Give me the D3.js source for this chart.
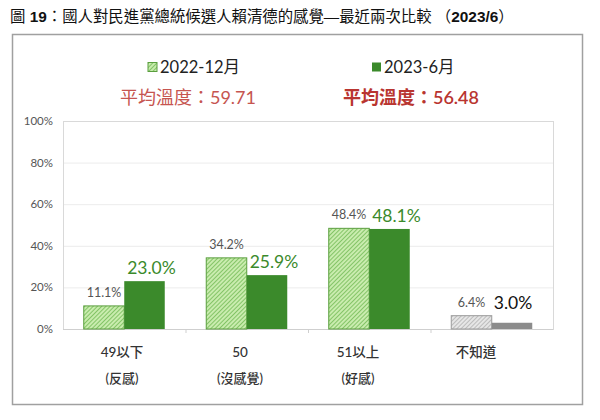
<!DOCTYPE html>
<html>
<head>
<meta charset="utf-8">
<script src="https://cdn.jsdelivr.net/npm/d3@7"></script>
<style>
  body { margin: 0; background: #fff; }
  svg { display: block; font-family: "Lato", "Noto Sans CJK TC", sans-serif; }
</style>
</head>
<body>
<div id="chart"></div>
<script>
// data
let categories = ["49以下", "50", "51以上", "不知道"];
let categorySub = ["(反感)", "(沒感覺)", "(好感)", ""];
let seriesNames = ["2022-12月", "2023-6月"];
let values2022 = [11.1, 34.2, 48.4, 6.4];
let values2023 = [23.0, 25.9, 48.1, 3.0];
let avgLabels = ["平均溫度：59.71", "平均溫度：56.48"];
let yTicks = [0, 20, 40, 60, 80, 100];

let width = 600, height = 420;
let margin = { top: 121, right: 47, bottom: 91, left: 63 };

let svg = d3.select("#chart").append("svg")
    .attr("width", width)
    .attr("height", height);

let defs = svg.append("defs");

function addHatch(id, bg, line) {
    let p = defs.append("pattern")
        .attr("id", id)
        .attr("patternUnits", "userSpaceOnUse")
        .attr("width", 3)
        .attr("height", 3)
        .attr("patternTransform", "rotate(45)");
    p.append("rect").attr("width", 3).attr("height", 3).attr("fill", bg);
    p.append("line")
        .attr("x1", 0).attr("y1", 0).attr("x2", 0).attr("y2", 3)
        .attr("stroke", line).attr("stroke-width", 1.3);
}
addHatch("hatchGreen", "#c9ecae", "#5fae40");
addHatch("hatchGray", "#e6e6e6", "#a6a6a6");

// title
let title = svg.append("text")
    .attr("x", 10)
    .attr("y", 22)
    .attr("font-size", 15.4)
    .attr("fill", "#111")
    .attr("font-family", "'Liberation Sans', 'Noto Sans CJK TC', sans-serif");
title.append("tspan").text("圖 ");
title.append("tspan").attr("font-weight", "bold").text("19");
title.append("tspan").text("：國人對民進黨總統候選人賴清德的感覺—最近兩次比較 （");
title.append("tspan").attr("font-weight", "bold").text("2023/6");
title.append("tspan").text("）");

// outer frame
svg.append("rect")
    .attr("x", 12.5)
    .attr("y", 34.5)
    .attr("width", 570)
    .attr("height", 370)
    .attr("fill", "none")
    .attr("stroke", "#a0a0a0")
    .attr("stroke-width", 1.5);

let x = d3.scaleBand()
    .domain(categories)
    .range([margin.left, width - margin.right]);

let y = d3.scaleLinear()
    .domain([0, 100])
    .range([height - margin.bottom, margin.top]);

let barW = 40.5;

// grid
svg.append("g")
    .selectAll("line")
    .data(yTicks.filter(d => d > 0 && d < 100))
    .join("line")
    .attr("x1", margin.left)
    .attr("x2", width - margin.right)
    .attr("y1", d => y(d) + 0.5)
    .attr("y2", d => y(d) + 0.5)
    .attr("stroke", "#ececec");

// plot border
svg.append("rect")
    .attr("x", margin.left + 0.5)
    .attr("y", y(100) + 0.5)
    .attr("width", width - margin.right - margin.left)
    .attr("height", y(0) - y(100))
    .attr("fill", "none")
    .attr("stroke", "#d9d9d9");

// y axis labels
svg.append("g")
    .selectAll("text")
    .data(yTicks)
    .join("text")
    .attr("x", 53)
    .attr("y", d => y(d) + 4)
    .attr("text-anchor", "end")
    .attr("font-size", 11.5)
    .attr("fill", "#555")
    .text(d => d + "%");

// x axis baseline and ticks
svg.append("line")
    .attr("x1", margin.left)
    .attr("x2", width - margin.right)
    .attr("y1", y(0) + 0.5)
    .attr("y2", y(0) + 0.5)
    .attr("stroke", "#cfcfcf");

svg.append("g")
    .selectAll("line")
    .data(categories.slice(1))
    .join("line")
    .attr("x1", d => x(d) + 0.5)
    .attr("x2", d => x(d) + 0.5)
    .attr("y1", y(0))
    .attr("y2", y(0) + 4)
    .attr("stroke", "#cfcfcf");

// bars
let center = d => x(d) + x.bandwidth() / 2;
let isUnknown = i => i === categories.length - 1;

svg.append("g")
    .selectAll("rect")
    .data(categories)
    .join("rect")
    .attr("x", d => center(d) - barW)
    .attr("y", (d, i) => y(values2022[i]))
    .attr("width", barW)
    .attr("height", (d, i) => y(0) - y(values2022[i]))
    .attr("fill", (d, i) => isUnknown(i) ? "url(#hatchGray)" : "url(#hatchGreen)")
    .attr("stroke", (d, i) => isUnknown(i) ? "#9a9a9a" : "#5a9e3e")
    .attr("stroke-width", 1);

svg.append("g")
    .selectAll("rect")
    .data(categories)
    .join("rect")
    .attr("x", d => center(d))
    .attr("y", (d, i) => y(values2023[i]))
    .attr("width", barW)
    .attr("height", (d, i) => y(0) - y(values2023[i]))
    .attr("fill", (d, i) => isUnknown(i) ? "#8c8c8c" : "#3b8a2b");

// value labels
svg.append("g")
    .selectAll("text")
    .data(categories)
    .join("text")
    .attr("x", d => center(d) - barW / 2)
    .attr("y", (d, i) => y(values2022[i]) - 9)
    .attr("text-anchor", "middle")
    .attr("font-size", 12.5)
    .attr("fill", "#555")
    .text((d, i) => values2022[i].toFixed(1) + "%");

svg.append("g")
    .selectAll("text")
    .data(categories)
    .join("text")
    .attr("x", (d, i) => center(d) + barW / 2 + (isUnknown(i) ? 1 : 7))
    .attr("y", (d, i) => isUnknown(i) ? y(values2022[i]) - 7 : y(values2023[i]) - 7)
    .attr("text-anchor", "middle")
    .attr("font-size", 17.5)
    .attr("fill", (d, i) => isUnknown(i) ? "#111" : "#3b8a2b")
    .text((d, i) => values2023[i].toFixed(1) + "%");

// category labels
let labelX = i => 122 + i * 118;
svg.append("g")
    .selectAll("text")
    .data(categories)
    .join("text")
    .attr("x", (d, i) => labelX(i))
    .attr("y", 357)
    .attr("text-anchor", "middle")
    .attr("font-size", 13.5)
    .attr("font-weight", 500)
    .attr("fill", "#333")
    .text(d => d);

svg.append("g")
    .selectAll("text")
    .data(categorySub)
    .join("text")
    .attr("x", (d, i) => labelX(i))
    .attr("y", 383)
    .attr("text-anchor", "middle")
    .attr("font-size", 13)
    .attr("font-weight", 500)
    .attr("fill", "#333")
    .text(d => d);

// legend
let legendX = [148, 372];
let legend = svg.append("g")
    .selectAll("g")
    .data(seriesNames)
    .join("g")
    .attr("transform", (d, i) => `translate(${legendX[i]},67)`);

legend.append("rect")
    .attr("x", 0)
    .attr("y", -4.5)
    .attr("width", 9)
    .attr("height", 9)
    .attr("fill", (d, i) => i === 0 ? "url(#hatchGreen)" : "#3b8a2b")
    .attr("stroke", (d, i) => i === 0 ? "#5a9e3e" : "none");

legend.append("text")
    .attr("x", 12)
    .attr("y", 6)
    .attr("font-size", 16.5)
    .attr("fill", "#222")
    .text(d => d);

// average temperatures
let avgX = [188, 411];
let avgColors = ["#c65550", "#b93530"];
svg.append("g")
    .selectAll("text")
    .data(avgLabels)
    .join("text")
    .attr("x", (d, i) => avgX[i])
    .attr("y", 104)
    .attr("text-anchor", "middle")
    .attr("font-size", 18)
    .attr("font-weight", (d, i) => i === 1 ? 600 : 400)
    .attr("fill", (d, i) => avgColors[i])
    .text(d => d);
</script>
</body>
</html>
